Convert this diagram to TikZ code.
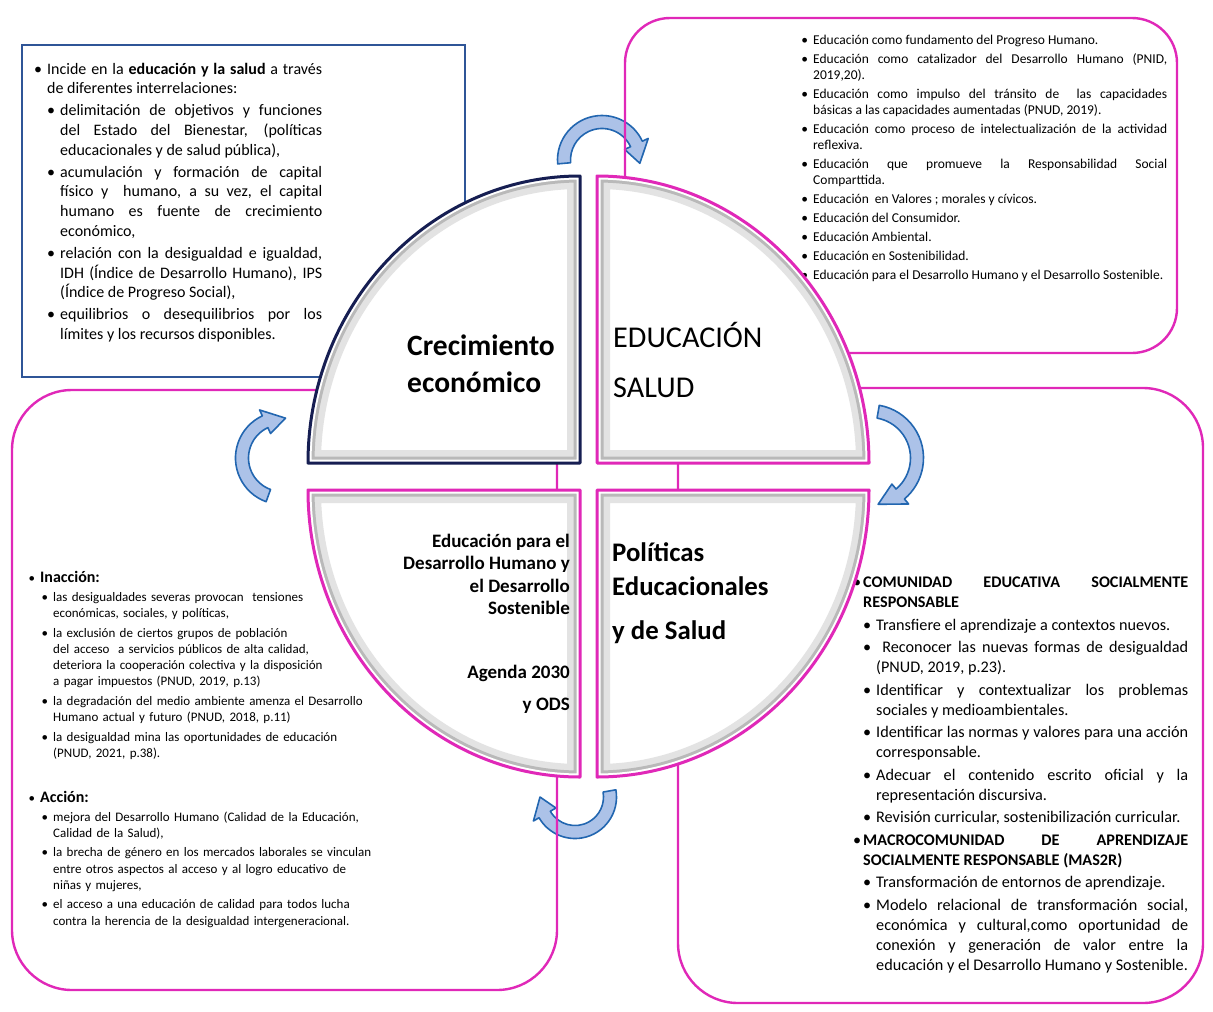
\documentclass[tikz,border=0pt]{standalone}
\usepackage{fontspec}
\setmainfont{Carlito}
\usepackage{enumitem}
\usetikzlibrary{positioning}

\definecolor{pinkline}{RGB}{224,40,184}
\definecolor{boxblue}{RGB}{47,85,151}
\definecolor{navyline}{RGB}{22,30,82}
\definecolor{arrowfill}{RGB}{172,194,232}
\definecolor{arrowline}{RGB}{34,102,176}

\setlist[itemize]{label=\textbullet, topsep=0pt, partopsep=0pt, parsep=0pt, labelsep=5pt}
\hyphenpenalty=10000
\exhyphenpenalty=10000
\emergencystretch=3em

\tikzset{
  pinkbox/.style={draw=pinkline, line width=2.4pt, rounded corners=#1},
  listtext/.style={anchor=north west, inner sep=0pt, align=justify},
  quadlabel/.style={inner sep=0pt, font=\bfseries\fontsize{29.5}{37}\selectfont},
  cyclearrow/.style={fill=arrowfill, draw=arrowline, line width=1.6pt, line join=round},
}

% one quarter of the disc: corner, xscale, yscale, border colour
\def\quarterpath{(0,0) -- (272,0) arc[start angle=0, end angle=90, x radius=272, y radius=287] -- cycle}
\newcommand\quarterdisc[4]{%
  \begin{scope}[shift={#1}, xscale=#2, yscale=#3]
    \fill[white] \quarterpath;
    \begin{scope}
      \clip \quarterpath;
      \draw[gray!22, line width=26pt] \quarterpath;
      \draw[gray!55, line width=13pt] \quarterpath;
      \draw[white, line width=7pt] \quarterpath;
    \end{scope}
    \draw[#4, line width=3pt, line join=round] \quarterpath;
  \end{scope}}

% curved block arrow, clockwise: centre, radius, start angle, end angle
\newcommand\turnarrow[4]{%
  \begin{scope}[shift={#1}]
    \filldraw[cyclearrow] ({#3}:{#2+6.5}) arc[start angle={#3}, end angle={#4}, radius={#2+6.5}]
      -- ({#4}:{#2+13}) -- ({#4-30}:{#2}) -- ({#4}:{#2-13}) -- ({#4}:{#2-6.5})
      arc[start angle={#4}, end angle={#3}, radius={#2-6.5}] -- cycle;
  \end{scope}}

\begin{document}
\begin{tikzpicture}[x=1pt, y=1pt]
  \useasboundingbox (0,0) rectangle (1213,-1012);
  \fill[white] (0,0) rectangle (1213,-1012);

  % arrows of the cycle
  \turnarrow{(602,-160)}{38}{185}{25}
  \turnarrow{(870,-458)}{47}{80}{-50}
  \turnarrow{(575,-797)}{35}{10}{-150}
  \turnarrow{(282,-458)}{40}{-110}{-245}

  % frames
  \draw[boxblue, line width=2pt] (22,-45) rectangle (465,-377);
  \draw[pinkbox=45] (625,-18) rectangle (1177,-353);
  \draw[pinkbox=60] (12,-390) rectangle (557,-990);
  \draw[pinkbox=60] (678,-388) rectangle (1203,-1003);

  % texts of the frames
  \node[listtext, text width=287pt, font=\fontsize{16}{19.8}\selectfont] (growthlist) at (35,-54) {%
    \begin{itemize}[leftmargin=12pt, itemsep=2pt]
      \item Incide en la \textbf{educación y la salud} a través\linebreak de diferentes interrelaciones:
      \begin{itemize}[leftmargin=13pt, itemsep=2pt, topsep=2pt]
        \item delimitación de objetivos y funciones\linebreak del Estado del Bienestar, (políticas\linebreak educacionales y de salud pública),
        \item acumulación y formación de capital\linebreak físico y\ \ humano, a su vez, el capital\linebreak humano es fuente de crecimiento\linebreak económico,
        \item relación con la desigualdad e igualdad,\linebreak IDH (Índice de Desarrollo Humano), IPS\linebreak (Índice de Progreso Social),
        \item equilibrios o desequilibrios por los\linebreak límites y los recursos disponibles.
      \end{itemize}
    \end{itemize}};

  \node[listtext, text width=367pt, font=\fontsize{13.5}{16}\selectfont] (edulist) at (800,-28) {%
    \begin{itemize}[leftmargin=13pt, itemsep=3pt]
      \item Educación como fundamento del Progreso Humano.
      \item Educación como catalizador del Desarrollo Humano (PNID,\linebreak 2019,20).
      \item Educación como impulso del tránsito de\ \ las capacidades\linebreak básicas a las capacidades aumentadas (PNUD, 2019).
      \item Educación como proceso de intelectualización de la actividad\linebreak reflexiva.
      \item Educación que promueve la Responsabilidad Social\linebreak Comparttida.
      \item Educación\ \ en Valores ; morales y cívicos.
      \item Educación del Consumidor.
      \item Educación Ambiental.
      \item Educación en Sostenibilidad.
      \item Educación para el Desarrollo Humano y el Desarrollo Sostenible.
    \end{itemize}};

  \node[listtext, align=left, text width=345pt, font=\fontsize{13}{16}\selectfont] (inactionlist) at (28,-566) {%
    \begin{itemize}[leftmargin=12pt]
      \item {\fontsize{16}{16}\selectfont\bfseries Inacción:}
      \begin{itemize}[leftmargin=13pt, itemsep=4pt, topsep=3pt]
        \item las desigualdades severas provocan\ \ tensiones\\ económicas, sociales, y políticas,
        \item la exclusión de ciertos grupos de población\\ del acceso\ \ a servicios públicos de alta calidad,\\ deteriora la cooperación colectiva y la disposición\\ a pagar impuestos (PNUD, 2019, p.13)
        \item la degradación del medio ambiente amenza el Desarrollo\\ Humano actual y futuro (PNUD, 2018, p.11)
        \item la desigualdad mina las oportunidades de educación\\ (PNUD, 2021, p.38).
      \end{itemize}
    \end{itemize}};

  \node[listtext, align=left, text width=345pt, font=\fontsize{13}{16.3}\selectfont,
        below=29pt of inactionlist.south west, anchor=north west] (actionlist) {%
    \begin{itemize}[leftmargin=12pt]
      \item {\fontsize{16}{16}\selectfont\bfseries Acción:}
      \begin{itemize}[leftmargin=13pt, itemsep=3pt, topsep=2pt]
        \item mejora del Desarrollo Humano (Calidad de la Educación,\\ Calidad de la Salud),
        \item la brecha de género en los mercados laborales se vinculan\\ entre otros aspectos al acceso y al logro educativo de\\ niñas y mujeres,
        \item el acceso a una educación de calidad para todos lucha\\ contra la herencia de la desigualdad intergeneracional.
      \end{itemize}
    \end{itemize}};

  \node[listtext, text width=337pt, font=\fontsize{16.2}{20}\selectfont] (schoollist) at (851,-567.5) {%
    \begin{itemize}[leftmargin=12pt, itemsep=2.5pt, labelsep=2pt]
      \item \textbf{COMUNIDAD EDUCATIVA SOCIALMENTE\linebreak RESPONSABLE}
      \begin{itemize}[leftmargin=13pt, itemsep=2.5pt, topsep=2.5pt, labelsep=5pt]
        \item Transfiere el aprendizaje a contextos nuevos.
        \item \ Reconocer las nuevas formas de desigualdad\linebreak (PNUD, 2019, p.23).
        \item Identificar y contextualizar los problemas\linebreak sociales y medioambientales.
        \item Identificar las normas y valores para una acción\linebreak corresponsable.
        \item Adecuar el contenido escrito oficial y la\linebreak representación discursiva.
        \item Revisión curricular, sostenibilización curricular.
      \end{itemize}
      \item \textbf{MACROCOMUNIDAD DE APRENDIZAJE\linebreak SOCIALMENTE RESPONSABLE (MAS2R)}
      \begin{itemize}[leftmargin=13pt, itemsep=2.5pt, topsep=2.5pt, labelsep=5pt]
        \item Transformación de entornos de aprendizaje.
        \item Modelo relacional de transformación social,\linebreak económica y cultural,como oportunidad de\linebreak conexión y generación de valor entre la\linebreak educación y el Desarrollo Humano y Sostenible.
      \end{itemize}
    \end{itemize}};

  % the disc
  \quarterdisc{(580,-463)}{-1}{1}{navyline}
  \quarterdisc{(597,-463)}{1}{1}{pinkline}
  \quarterdisc{(580,-490)}{-1}{-1}{pinkline}
  \quarterdisc{(597,-490)}{1}{-1}{pinkline}

  \node[quadlabel, anchor=north west, align=left] (growth) at (407,-335) {Crecimiento\\económico};
  \node[quadlabel, anchor=north west, align=left, font=\fontsize{30.2}{50}\selectfont] (education) at (613,-322) {EDUCACIÓN\\SALUD};
  \node[quadlabel, anchor=north east, align=right, font=\bfseries\fontsize{19}{22.3}\selectfont] (sustain) at (570,-534) {Educación para el\\Desarrollo Humano y\\el Desarrollo\\Sostenible};
  \node[quadlabel, anchor=north east, align=right, font=\bfseries\fontsize{19}{32}\selectfont] (agenda) at (570,-665) {Agenda 2030\\y ODS};
  \node[quadlabel, anchor=north west, align=left, font=\bfseries\fontsize{26.8}{34}\selectfont] (policy) at (612,-542) {Políticas\\Educacionales\\[10pt]y de Salud};
\end{tikzpicture}
\end{document}
